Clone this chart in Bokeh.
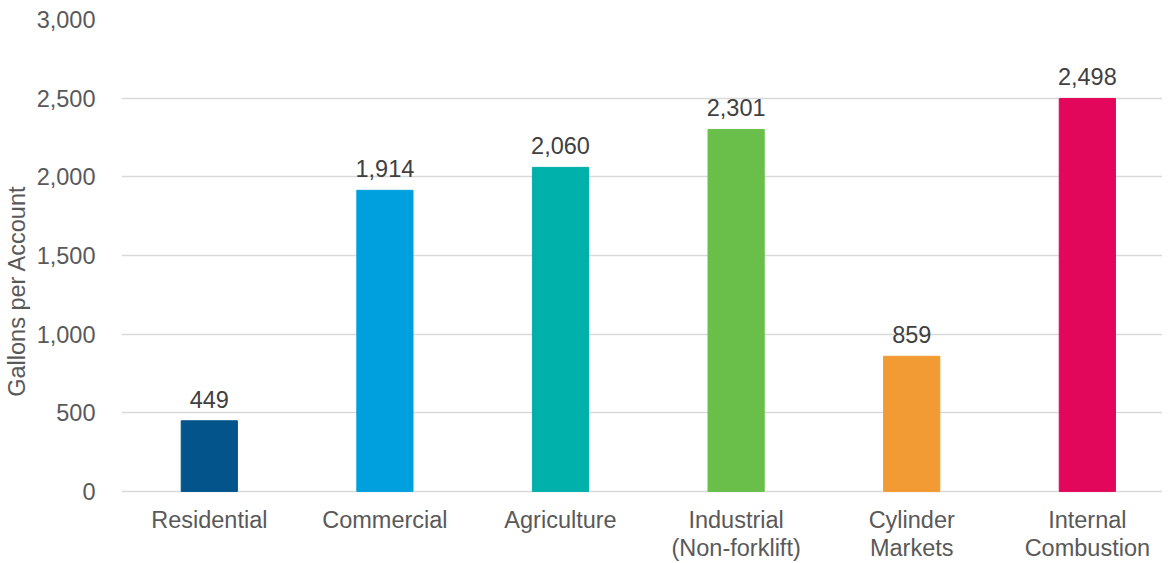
from bokeh.plotting import figure
from bokeh.models import ColumnDataSource, Range1d, FixedTicker, NumeralTickFormatter
from bokeh.core.properties import value
from bokeh.embed import file_html
from bokeh.resources import INLINE

categories = ["Residential", "Commercial", "Agriculture", "Industrial\n(Non-forklift)",
              "Cylinder\nMarkets", "Internal\nCombustion"]
gallons = [449, 1914, 2060, 2301, 859, 2498]
colors = ["#02548A", "#00A0DF", "#00B0AA", "#6ABF4B", "#F29A33", "#E2075A"]
y_ticks = [0, 500, 1000, 1500, 2000, 2500, 3000]

FONT = "Liberation Sans"
FS = "23.5px"

xs = list(range(len(categories)))
labels = [f"{v:,}" for v in gallons]
src = ColumnDataSource(dict(x=xs, top=gallons, color=colors, label=labels,
                            cat=categories, zero=[0] * len(xs)))

p = figure(width=1162, height=562, output_backend="svg", toolbar_location=None,
           x_range=Range1d(-0.5, 5.428), y_range=Range1d(-452, 3000),
           min_border_left=100, min_border_right=0, min_border_top=19, min_border_bottom=0)
p.outline_line_color = None
p.background_fill_color = "white"
p.border_fill_color = "white"

p.vbar(x="x", top="top", width=0.32, color="color", source=src)
p.text(x="x", y="top", text="label", source=src, text_align="center", text_baseline="bottom",
       y_offset=-13, text_font=value(FONT), text_font_size=FS, text_color="#404040")
# category labels under the zero line
p.text(x="x", y="zero", text="cat", source=src, text_align="center", text_baseline="top",
       y_offset=16, text_line_height=1.06, text_font=value(FONT), text_font_size=FS,
       text_color="#595959")

p.xaxis.visible = False

p.yaxis.ticker = FixedTicker(ticks=y_ticks)
p.yaxis.formatter = NumeralTickFormatter(format="0,0")
p.yaxis.major_label_text_font = FONT
p.yaxis.major_label_text_font_size = FS
p.yaxis.major_label_text_color = "#595959"
p.yaxis.major_label_standoff = 20
p.yaxis.axis_line_color = None
p.yaxis.major_tick_line_color = None
p.yaxis.minor_tick_line_color = None
p.yaxis.axis_label = "Gallons per Account"
p.yaxis.axis_label_text_font = FONT
p.yaxis.axis_label_text_font_size = FS
p.yaxis.axis_label_text_font_style = "normal"
p.yaxis.axis_label_text_color = "#595959"
p.yaxis.axis_label_standoff = 4

p.xgrid.grid_line_color = None
p.ygrid.grid_line_color = "#D9D9D9"
p.ygrid.grid_line_width = 1.6

open("out.html", "w").write(file_html(p, INLINE))
